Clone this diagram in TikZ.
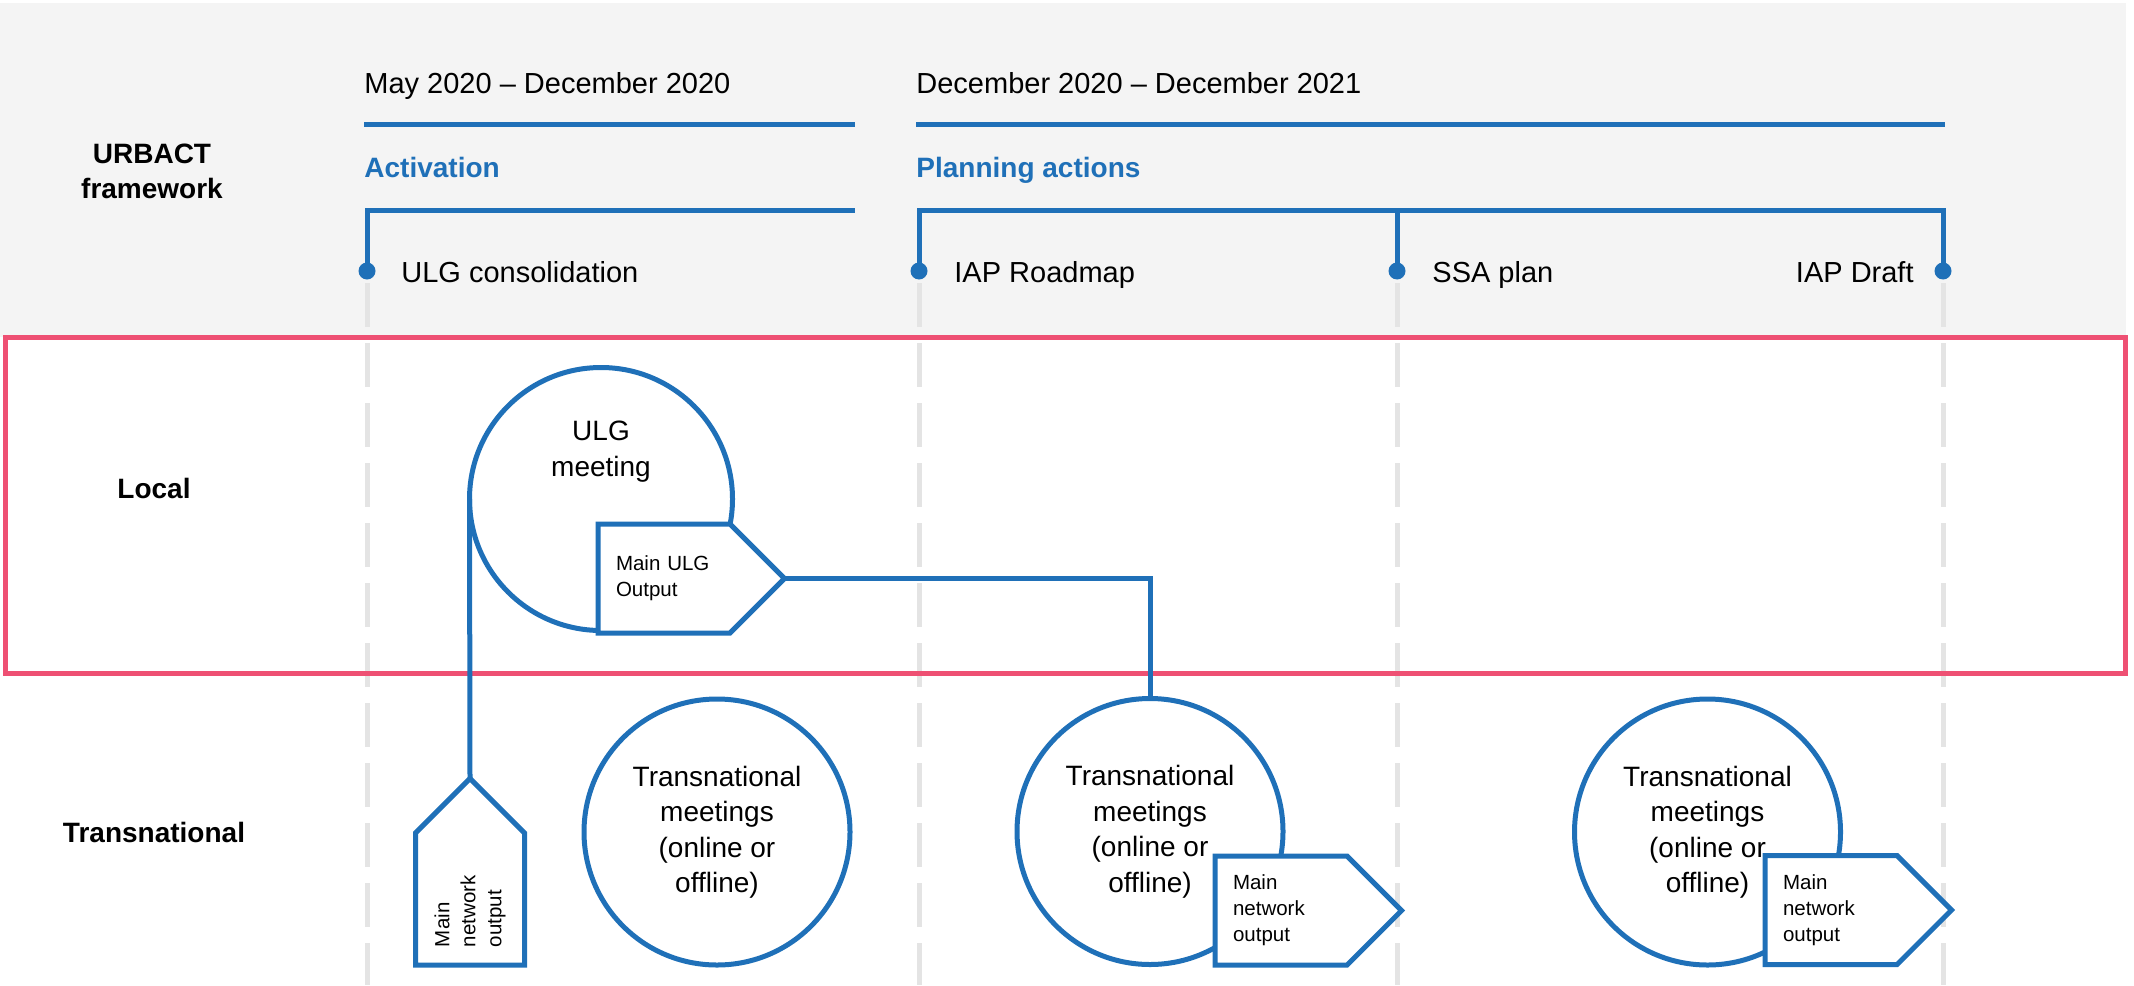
\documentclass[tikz,border=0pt]{standalone}
\usepackage{fontspec}
\setmainfont{Liberation Sans}
\usetikzlibrary{
  calc,positioning,
  shapes.symbols
}
\definecolor{urbblue}{RGB}{31,112,184}
\definecolor{urbred}{RGB}{238,80,115}
\definecolor{urbgrey}{RGB}{244,244,244}
\definecolor{urbdash}{RGB}{228,228,228}
\tikzset{
  rowlabel/.style={font=\bfseries\fontsize{14}{17.5}\selectfont,align=center,inner sep=0pt},
  datetext/.style={anchor=base west,inner sep=0pt,font=\fontsize{14.5}{17}\selectfont},
  phasetext/.style={anchor=base west,inner sep=0pt,font=\bfseries\fontsize{14}{17}\selectfont,text=urbblue},
  milestone/.style={inner sep=0pt,font=\fontsize{14.5}{17}\selectfont},
  bar/.style={urbblue,line width=2.5pt},
  pin/.style={circle,fill=urbblue,inner sep=0pt,minimum size=8.5pt},
  guide/.style={urbdash,line width=2.5pt,dash pattern=on 22pt off 8pt},
  meeting/.style={circle,draw=urbblue,line width=2.5pt,fill=white,inner sep=0pt,outer sep=0pt,
    minimum size=133pt,align=center,font=\fontsize{14}{17.75}\selectfont},
  meetlabel/.style={inner sep=0pt,align=center,font=\fontsize{14}{18}\selectfont},
  outbox/.style={signal,signal to=east,signal from=nowhere,signal pointer angle=90,
    draw=urbblue,line width=2.5pt,fill=white,outer sep=0pt,
    minimum width=92.5pt,minimum height=54.5pt,inner xsep=9pt,text width=48pt,
    align=left,font=\fontsize{10.25}{13}\selectfont},
  link/.style={urbblue,line width=2.5pt}
}
\begin{document}
\begin{tikzpicture}[x=0.5pt,y=0.5pt]
\useasboundingbox (0,0) rectangle (2134,-985);
\fill[urbgrey] (0,-3) rectangle (2126,-337);

\draw[guide] (367,-283) -- (367,-985);
\draw[guide] (919,-283) -- (919,-985);
\draw[guide] (1397,-283) -- (1397,-985);
\draw[guide] (1943,-283) -- (1943,-985);

\draw[urbred,line width=2.5pt] (5,-337.5) rectangle (2125,-673);

\node[rowlabel] (urbact) at (152,-171) {URBACT\\framework};
\node[rowlabel] (local) at (154,-488.5) {Local};
\node[rowlabel] (transnat) at (154,-832) {Transnational};

\node[datetext] (period1) at (364,-93) {May 2020 – December 2020};
\node[datetext] (period2) at (916,-93) {December 2020 – December 2021};
\draw[bar] (364,-124) -- (855,-124);
\draw[bar] (916,-124) -- (1945,-124);
\node[phasetext] (activation) at (364,-177) {Activation};
\node[phasetext] (planning) at (916,-177) {Planning actions};

\coordinate (acttop) at (855,-210);
\coordinate (plantop) at (919,-210);
\node[pin] (pin1) at (367,-271) {};
\node[pin] (pin2) at (919,-271) {};
\node[pin] (pin3) at (1397,-271) {};
\node[pin] (pin4) at (1943,-271) {};
\draw[bar] (pin1.center) |- (acttop);
\draw[bar] (pin2.center) -- (plantop) -- (plantop -| pin4) -- (pin4.center);
\draw[bar] (pin3.center) -- (pin3 |- plantop);

\node[milestone,anchor=base west] (ulgcons) at (401,-282) {ULG consolidation};
\node[milestone,anchor=base west] (roadmap) at (954,-282) {IAP Roadmap};
\node[milestone,anchor=base west] (ssa) at (1432,-282) {SSA plan};
\node[milestone,anchor=base east] (draft) at (1914,-282) {IAP Draft};

\node[meeting,minimum size=131.5pt] (ulg) at (601,-499) {};
\node[meetlabel] (ulglabel) at (601,-451.5) {ULG\\meeting};
\node[outbox,anchor=west] (ulgout) at (598,-578.5) {Main ULG\\Output};

\node[meeting] (tn1) at (717,-832) {Transnational\\meetings\\(online or\\offline)};
\node[meeting] (tn2) at (1150,-831.5) {Transnational\\meetings\\(online or\\offline)};
\node[outbox,anchor=west] (out2) at (1215,-910.5) {Main\\network\\output};
\node[meeting] (tn3) at (1707.5,-832) {Transnational\\meetings\\(online or\\offline)};
\node[outbox,anchor=west] (out3) at (1765,-910) {Main\\network\\output};
\node[outbox,anchor=west,rotate=90] (net1) at (470,-965) {Main\\network\\output};

\draw[link] (ulg.west) -- (net1.east);
\draw[link] (ulgout.east) -| (tn2.north);
\end{tikzpicture}
\end{document}
